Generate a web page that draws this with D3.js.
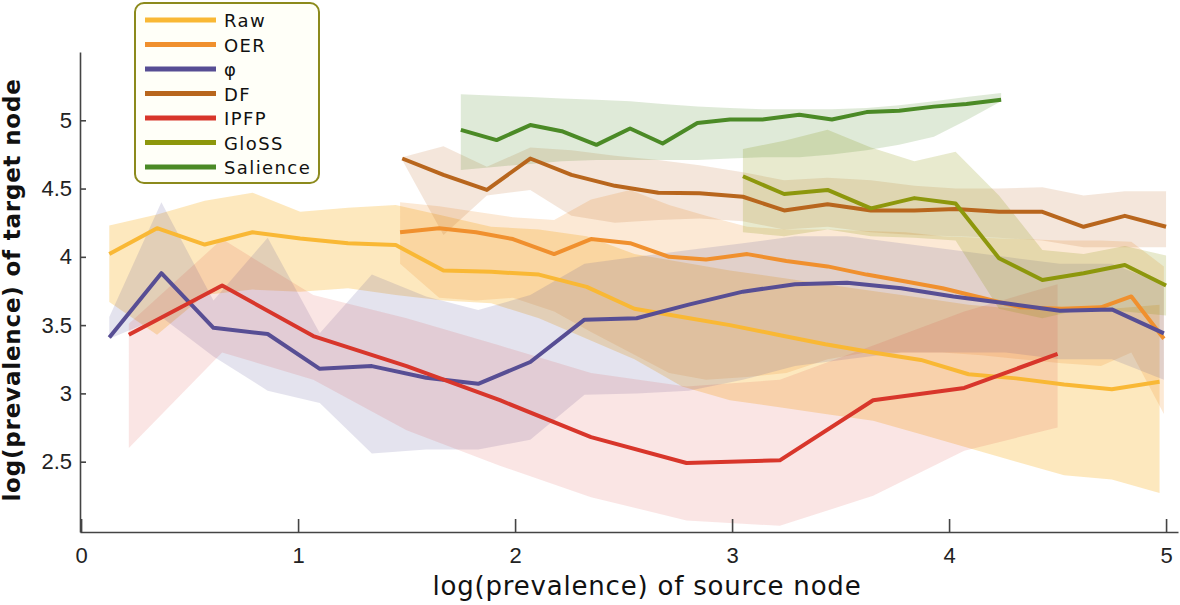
<!DOCTYPE html>
<html>
<head>
<meta charset="utf-8">
<script src="https://cdn.jsdelivr.net/npm/d3@7"></script>
<style>
  body { margin: 0; background: #fff; }
</style>
</head>
<body>
<svg id="chart" width="1180" height="605"></svg>
<script>
// ---- data ----
const seriesNames = ["Raw", "OER", "φ", "DF", "IPFP", "GloSS", "Salience"];
const xTicks = [0, 1, 2, 3, 4, 5];
const yTicks = [2.5, 3, 3.5, 4, 4.5, 5];

const rawX  = [0.13,0.35,0.57,0.79,1.01,1.23,1.45,1.67,1.89,2.11,2.33,2.55,2.77,2.99,3.21,3.43,3.65,3.87,4.09,4.31,4.53,4.75,4.97];
const rawY  = [4.02,4.21,4.09,4.18,4.135,4.10,4.086,3.90,3.89,3.87,3.78,3.62,3.56,3.50,3.43,3.36,3.30,3.245,3.14,3.11,3.065,3.03,3.085];
const rawHi = [4.23,4.31,4.41,4.47,4.33,4.36,4.38,4.30,4.22,4.20,4.15,4.02,3.96,3.90,3.85,3.80,3.75,3.70,3.65,3.62,3.60,3.62,3.65];
const rawLo = [3.67,3.43,3.72,3.76,3.745,3.77,3.72,3.68,3.66,3.55,3.40,3.25,3.05,2.95,2.90,2.85,2.80,2.70,2.60,2.50,2.40,2.37,2.27];

const oerX  = [1.47,1.65,1.82,1.99,2.18,2.35,2.53,2.71,2.88,3.07,3.25,3.44,3.62,3.80,3.97,4.15,4.33,4.52,4.70,4.84,4.99];
const oerY  = [4.18,4.21,4.18,4.13,4.02,4.13,4.10,4.00,3.98,4.02,3.97,3.93,3.87,3.82,3.77,3.70,3.63,3.62,3.63,3.71,3.40];
const oerHi = [4.40,4.37,4.33,4.29,4.27,4.42,4.49,4.38,4.30,4.22,4.20,4.20,4.19,4.18,4.15,4.14,4.13,4.12,4.12,4.11,3.93];
const oerLo = [3.95,3.70,3.68,3.70,3.60,3.45,3.30,3.15,3.10,3.12,3.15,3.25,3.30,3.30,3.30,3.28,3.25,3.22,3.20,3.30,2.85];

const phiX  = [0.13,0.37,0.61,0.86,1.10,1.34,1.59,1.83,2.07,2.32,2.56,2.80,3.05,3.29,3.53,3.78,4.02,4.26,4.51,4.75,4.99];
const phiY  = [3.41,3.88,3.48,3.435,3.18,3.20,3.115,3.07,3.23,3.54,3.55,3.65,3.745,3.80,3.81,3.77,3.71,3.66,3.605,3.615,3.44];
const phiHi = [3.56,4.40,3.68,4.14,3.44,3.87,3.71,3.61,3.72,3.95,4.00,4.05,4.10,4.15,4.15,4.10,4.05,4.00,3.95,3.95,3.80];
const phiLo = [3.40,3.56,3.27,3.02,2.93,2.56,2.59,2.59,2.66,2.99,3.00,3.02,3.10,3.20,3.25,3.30,3.30,3.30,3.25,3.25,3.10];

const dfX  = [1.48,1.67,1.87,2.07,2.26,2.46,2.66,2.85,3.05,3.24,3.44,3.64,3.84,4.03,4.23,4.43,4.62,4.81,5.00];
const dfY  = [4.72,4.60,4.49,4.72,4.60,4.52,4.47,4.465,4.44,4.34,4.385,4.34,4.34,4.35,4.33,4.33,4.22,4.30,4.22];
const dfHi = [4.73,4.81,4.66,4.80,4.78,4.74,4.71,4.67,4.62,4.56,4.58,4.56,4.52,4.50,4.50,4.51,4.45,4.48,4.48];
const dfLo = [4.71,4.16,4.45,4.49,4.30,4.25,4.27,4.28,4.26,4.20,4.22,4.18,4.16,4.15,4.14,4.12,4.07,4.07,4.07];

const ipfpX  = [0.22,0.65,1.07,1.50,1.93,2.35,2.79,3.22,3.65,4.07,4.50];
const ipfpY  = [3.43,3.79,3.42,3.20,2.95,2.68,2.49,2.51,2.95,3.04,3.29];
const ipfpHi = [3.51,4.13,3.72,3.55,3.35,3.15,3.05,3.10,3.35,3.60,3.80];
const ipfpLo = [2.60,3.30,3.10,2.73,2.47,2.24,2.07,2.03,2.25,2.58,2.75];

const glossX  = [3.05,3.24,3.44,3.64,3.84,4.03,4.23,4.43,4.62,4.81,5.00];
const glossY  = [4.59,4.46,4.49,4.355,4.43,4.39,3.99,3.83,3.88,3.94,3.79];
const glossHi = [4.79,4.85,4.93,4.80,4.70,4.77,4.45,4.05,4.02,4.08,4.01];
const glossLo = [4.18,4.15,4.20,4.15,4.14,4.12,3.62,3.55,3.62,3.60,3.57];

const salX  = [1.75,1.915,2.07,2.215,2.375,2.53,2.68,2.84,2.99,3.14,3.31,3.46,3.62,3.77,3.93,4.08,4.24];
const salY  = [4.93,4.855,4.965,4.92,4.82,4.94,4.83,4.98,5.006,5.006,5.04,5.006,5.06,5.07,5.10,5.12,5.15];
const salHi = [5.19,5.18,5.17,5.16,5.15,5.14,5.12,5.10,5.09,5.08,5.08,5.08,5.09,5.11,5.14,5.17,5.20];
const salLo = [4.635,4.66,4.68,4.70,4.71,4.71,4.71,4.71,4.72,4.73,4.73,4.75,4.78,4.82,4.88,5.0,5.14];

const colors = ["#f9b835", "#f0902e", "#574e94", "#b8661d", "#d8362b", "#8d970c", "#4b8a26"];
const bandAlpha = [0.32, 0.2, 0.16, 0.16, 0.13, 0.2, 0.18];

// build a table the drawing code can loop over
const columns = [
  [rawX, rawY, rawLo, rawHi], [oerX, oerY, oerLo, oerHi], [phiX, phiY, phiLo, phiHi],
  [dfX, dfY, dfLo, dfHi], [ipfpX, ipfpY, ipfpLo, ipfpHi], [glossX, glossY, glossLo, glossHi],
  [salX, salY, salLo, salHi]
];
const series = seriesNames.map((name, i) => ({
  name, color: colors[i], alpha: bandAlpha[i],
  points: columns[i][0].map((x, j) => ({ x, y: columns[i][1][j], lo: columns[i][2][j], hi: columns[i][3][j] }))
}));

// ---- layout ----
const svg = d3.select("#chart");
const xScale = d3.scaleLinear().domain([-0.005, 5.055]).range([80, 1178]);
const yScale = d3.scaleLinear().domain([1.985, 5.5]).range([532, 52]);

const band = d3.area()
  .x(d => xScale(d.x))
  .y0(d => yScale(d.lo))
  .y1(d => yScale(d.hi));
const line = d3.line()
  .x(d => xScale(d.x))
  .y(d => yScale(d.y));

svg.append("g").selectAll("path")
  .data(series)
  .enter()
  .append("path")
  .attr("d", d => band(d.points))
  .attr("fill", d => d.color)
  .attr("fill-opacity", d => d.alpha)
  .attr("stroke", "none");

svg.append("g").selectAll("path")
  .data(series)
  .enter()
  .append("path")
  .attr("d", d => line(d.points))
  .attr("fill", "none")
  .attr("stroke", d => d.color)
  .attr("stroke-width", 4)
  .attr("stroke-linejoin", "round");

// axes
const axisB = d3.axisBottom(xScale).tickValues(xTicks).tickFormat(d3.format("d"))
  .tickSizeInner(-13).tickSizeOuter(0).tickPadding(15);
const axisL = d3.axisLeft(yScale).tickValues(yTicks).tickFormat(d => d)
  .tickSizeInner(-6).tickSizeOuter(0).tickPadding(8);

const gx = svg.append("g").attr("transform", "translate(0,532)").call(axisB);
const gy = svg.append("g").attr("transform", "translate(80,0)").call(axisL);
[gx, gy].forEach(g => {
  g.select(".domain").attr("stroke", "#444").attr("stroke-width", 1.6);
  g.selectAll(".tick line").attr("stroke", "#444").attr("stroke-width", 1.6);
  g.selectAll(".tick text")
    .attr("fill", "#222")
    .style("font-family", "'Liberation Sans', Arial, sans-serif")
    .style("font-size", "22px");
});

svg.append("text")
  .attr("x", 647).attr("y", 595)
  .attr("text-anchor", "middle")
  .style("font-family", "'DejaVu Sans', sans-serif")
  .style("font-size", "26px")
  .style("letter-spacing", "0.8px")
  .attr("fill", "#111")
  .text("log(prevalence) of source node");

svg.append("text")
  .attr("transform", "translate(20,290) rotate(-90)")
  .attr("text-anchor", "middle")
  .style("font-family", "'DejaVu Sans', sans-serif")
  .style("font-size", "23px")
  .style("font-weight", "bold")
  .style("letter-spacing", "0.8px")
  .attr("fill", "#111")
  .text("log(prevalence) of target node");

// legend
const legend = svg.append("g");
legend.append("rect")
  .attr("x", 135).attr("y", 3)
  .attr("width", 184).attr("height", 180)
  .attr("rx", 9)
  .attr("fill", "#fffff8")
  .attr("stroke", "#8c8a1c")
  .attr("stroke-width", 2);
const rows = legend.selectAll("g.row")
  .data(series)
  .enter()
  .append("g")
  .attr("class", "row")
  .attr("transform", (d, i) => `translate(0,${20 + i * 24.5})`);
rows.append("line")
  .attr("x1", 145).attr("x2", 216)
  .attr("stroke", d => d.color)
  .attr("stroke-width", 5);
rows.append("text")
  .attr("x", 224).attr("y", 7)
  .style("font-family", "'DejaVu Sans', sans-serif")
  .style("font-size", "18px")
  .style("letter-spacing", "1.4px")
  .attr("fill", "#111")
  .text(d => d.name);
</script>
</body>
</html>
